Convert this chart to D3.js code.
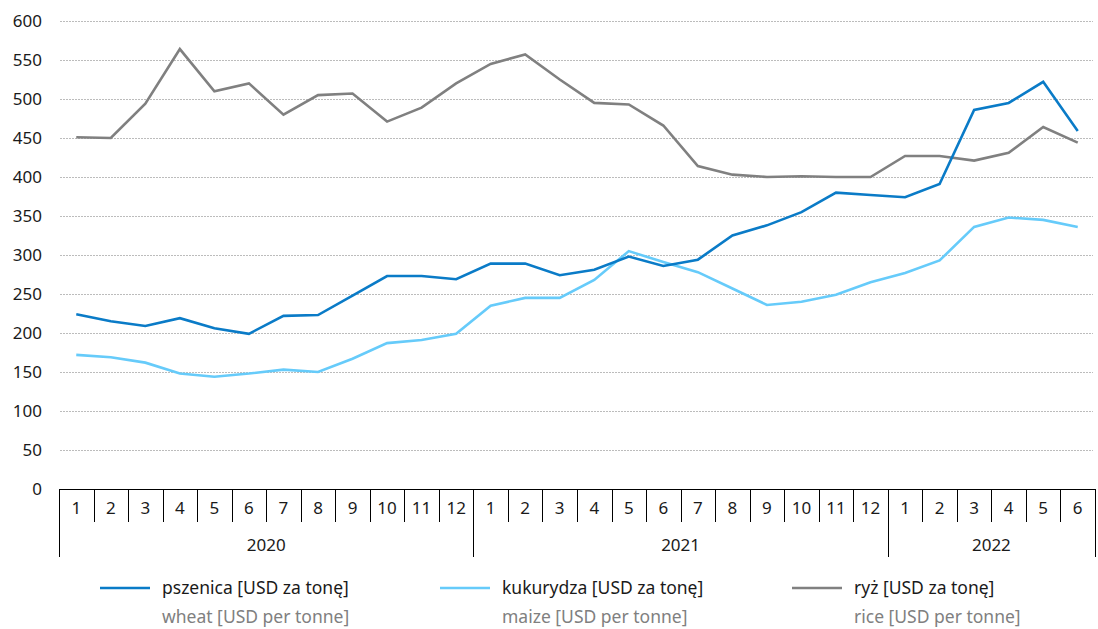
<!DOCTYPE html>
<html>
<head>
<meta charset="utf-8">
<script src="https://cdn.jsdelivr.net/npm/d3@7"></script>
<style>
  html, body { margin: 0; padding: 0; background: #fff; }
  svg { display: block; font-family: "Noto Sans", "Open Sans", sans-serif; }
</style>
</head>
<body>
<svg id="chart" width="1098" height="629"></svg>
<script>
// Monthly prices, Jan 2020 – Jun 2022
const years = ["2020", "2021", "2022"];
const monthsPerYear = [12, 12, 6];
const wheat = [224, 215, 209, 219, 206, 199, 222, 223, 248, 273, 273, 269,
               289, 289, 274, 281, 298, 286, 294, 325, 338, 355, 380, 377,
               374, 391, 486, 495, 522, 459];
const maize = [172, 169, 162, 148, 144, 148, 153, 150, 167, 187, 191, 199,
               235, 245, 245, 268, 305, 291, 278, 257, 236, 240, 249, 265,
               277, 293, 336, 348, 345, 336];
const rice  = [451, 450, 494, 564, 510, 520, 480, 505, 507, 471, 489, 520,
               545, 557, 525, 495, 493, 466, 414, 403, 400, 401, 400, 400,
               427, 427, 421, 431, 464, 444];
const yTicks = [0, 50, 100, 150, 200, 250, 300, 350, 400, 450, 500, 550, 600];
const seriesNames = [
  { pl: "pszenica [USD za tonę]", en: "wheat [USD per tonne]", color: "#0a7bc7", values: wheat },
  { pl: "kukurydza [USD za tonę]", en: "maize [USD per tonne]", color: "#66cbfa", values: maize },
  { pl: "ryż [USD za tonę]", en: "rice [USD per tonne]", color: "#808080", values: rice }
];

// Month labels / keys derived from the year structure
const monthKeys = [];
const monthLabels = [];
years.forEach((yr, i) => {
  for (let m = 1; m <= monthsPerYear[i]; m++) {
    monthKeys.push(yr + "-" + m);
    monthLabels.push(String(m));
  }
});

const svg = d3.select("#chart");
const plotLeft = 59, plotRight = 1095, plotTop = 21, plotBottom = 489;
const fontSize = 17;

const x = d3.scaleBand().domain(monthKeys).range([plotLeft, plotRight]).padding(0);
const y = d3.scaleLinear().domain([0, 600]).range([plotBottom, plotTop]);

// Horizontal gridlines
svg.append("g")
  .selectAll("line")
  .data(yTicks.filter(d => d > 0))
  .join("line")
  .attr("x1", plotLeft + 1).attr("x2", plotRight - 2)
  .attr("y1", d => y(d) + 0.5).attr("y2", d => y(d) + 0.5)
  .attr("stroke", "#bcbcbc")
  .attr("stroke-width", 1)
  .attr("stroke-dasharray", "2,1");

// Y axis labels
const yAxis = d3.axisLeft(y).tickValues(yTicks).tickSize(0).tickPadding(0);
const gy = svg.append("g").attr("transform", "translate(42,0)").call(yAxis);
gy.select(".domain").remove();
gy.selectAll("text")
  .attr("font-size", fontSize)
  .attr("fill", "#1a1a1a")
  .attr("font-family", "'Noto Sans', sans-serif");

// Category axis: baseline, month separators, year separators
const axisG = svg.append("g");
axisG.append("line")
  .attr("x1", plotLeft).attr("x2", plotRight)
  .attr("y1", plotBottom + 0.5).attr("y2", plotBottom + 0.5)
  .attr("stroke", "#000").attr("stroke-width", 1);

const boundaries = monthKeys.map(k => x(k)).concat([x.range()[1]]);
const yearStarts = [];
let acc = 0;
monthsPerYear.forEach(n => { yearStarts.push(acc); acc += n; });
yearStarts.push(acc);

axisG.selectAll("line.sep")
  .data(boundaries)
  .join("line")
  .attr("class", "sep")
  .attr("x1", d => Math.round(d) + 0.5).attr("x2", d => Math.round(d) + 0.5)
  .attr("y1", plotBottom)
  .attr("y2", (d, i) => yearStarts.includes(i) ? 557 : 522)
  .attr("stroke", "#000").attr("stroke-width", 1);

axisG.selectAll("text.month")
  .data(monthKeys)
  .join("text")
  .attr("class", "month")
  .attr("x", d => x(d) + x.bandwidth() / 2)
  .attr("y", 514)
  .attr("text-anchor", "middle")
  .attr("font-size", fontSize)
  .attr("fill", "#1a1a1a")
  .text((d, i) => monthLabels[i]);

axisG.selectAll("text.year")
  .data(years)
  .join("text")
  .attr("class", "year")
  .attr("x", (d, i) => (boundaries[yearStarts[i]] + boundaries[yearStarts[i + 1]]) / 2)
  .attr("y", 551)
  .attr("text-anchor", "middle")
  .attr("font-size", fontSize)
  .attr("fill", "#1a1a1a")
  .text(d => d);

// Series lines
const line = d3.line()
  .x((d, i) => x(monthKeys[i]) + x.bandwidth() / 2)
  .y(d => y(d));

svg.append("g")
  .selectAll("path")
  .data([seriesNames[2], seriesNames[1], seriesNames[0]])
  .join("path")
  .attr("d", d => line(d.values))
  .attr("fill", "none")
  .attr("stroke", d => d.color)
  .attr("stroke-width", 2.6)
  .attr("stroke-linejoin", "miter");

// Legend
const legendX = [100, 440, 792];
const lg = svg.append("g")
  .selectAll("g")
  .data(seriesNames)
  .join("g")
  .attr("transform", (d, i) => `translate(${legendX[i]},0)`);
lg.append("line")
  .attr("x1", 0).attr("x2", 50)
  .attr("y1", 588).attr("y2", 588)
  .attr("stroke", d => d.color)
  .attr("stroke-width", 2.6);
lg.append("text")
  .attr("x", 62).attr("y", 594)
  .attr("font-size", 17.5)
  .attr("fill", "#1a1a1a")
  .text(d => d.pl);
lg.append("text")
  .attr("x", 62).attr("y", 623)
  .attr("font-size", 17.5)
  .attr("fill", "#808080")
  .text(d => d.en);
</script>
</body>
</html>
